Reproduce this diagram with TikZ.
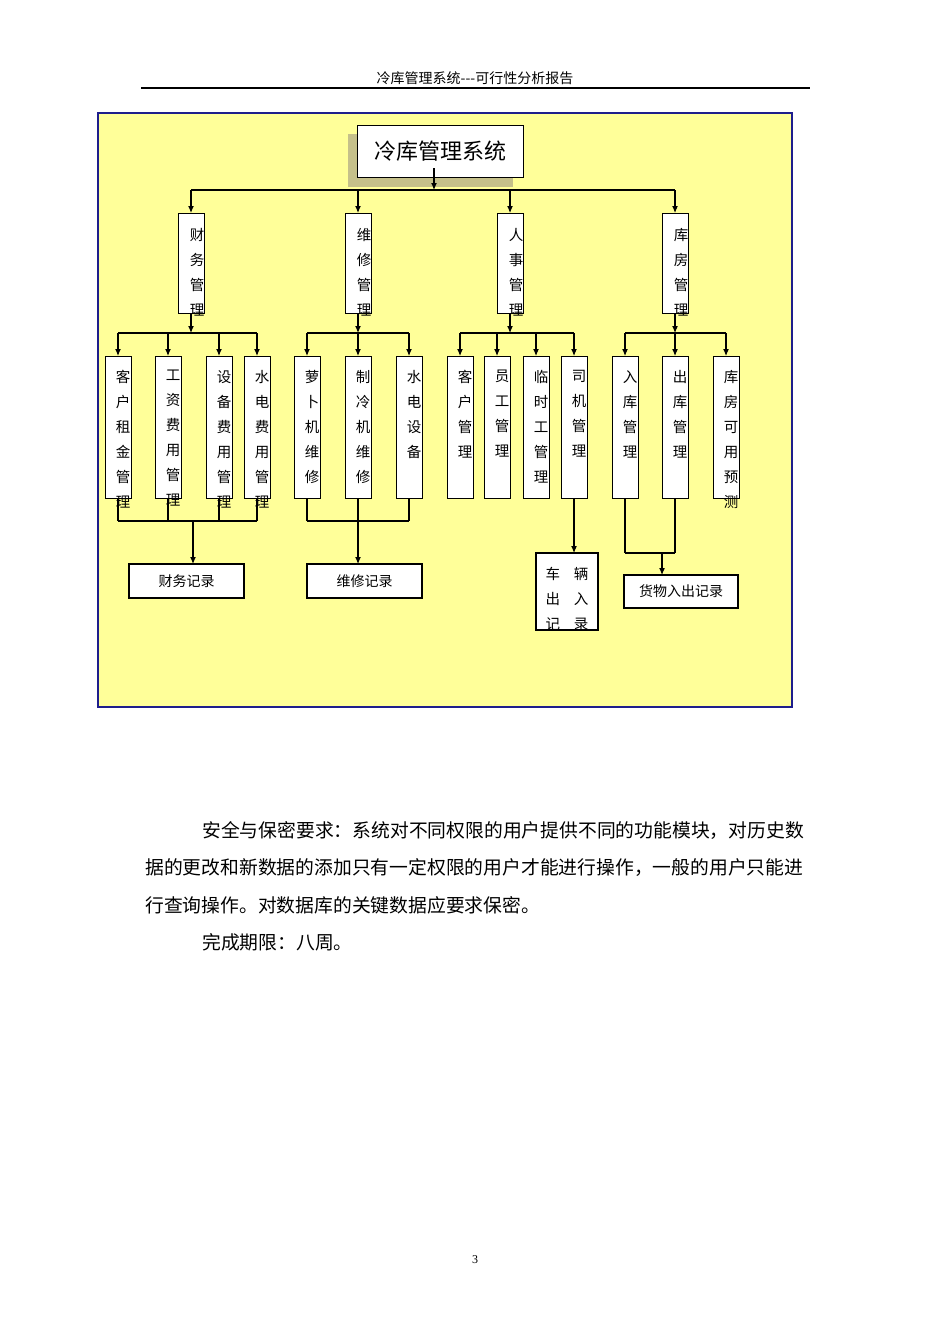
\documentclass[tikz,border=0pt]{standalone}
\usepackage{fontspec}
\setmainfont{Noto Sans CJK SC}
\newfontfamily\latserif{Liberation Serif}
\usetikzlibrary{arrows.meta}
\definecolor{pagey}{RGB}{255,255,153}
\definecolor{framec}{RGB}{30,30,140}
\definecolor{shadowc}{RGB}{197,192,138}
\begin{document}
\begin{tikzpicture}[x=1pt,y=-1pt,
  box/.style={draw=black, fill=white, line width=1pt, inner sep=0pt, outer sep=0pt},
  vbox/.style={box, minimum width=26pt, anchor=north west},
  vtxt/.style={anchor=north, inner sep=0pt, align=center, font=\fontsize{14.5}{25}\selectfont},
  ln/.style={line width=1.1pt, draw=black},
  arr/.style={ln, -{Latex[length=7pt,width=6pt]}},
  rec/.style={box, line width=1.2pt, anchor=north west, font=\fontsize{14}{17}\selectfont},
  para/.style={anchor=base west, inner sep=0pt, font=\fontsize{18.8}{22}\selectfont},
]
\fill[white] (0,0) rectangle (950,1344);
\useasboundingbox (0,0) rectangle (950,1344);

% header
\node[anchor=base, inner sep=0pt, font=\fontsize{14}{16}\selectfont] (hdr) at (475,83) {冷库管理系统-{}-{}-可行性分析报告};
\draw[line width=1.3pt] (141,88) -- (810,88);

% frame
\draw[fill=pagey, draw=framec, line width=1.3pt] (98,113) rectangle (792,707);

% root
\fill[shadowc] (348,134) rectangle (513,187);
\node[box, minimum width=166pt, minimum height=52pt, font=\fontsize{22}{26}\selectfont] (root) at (440,151) {冷库管理系统};

% level 2
\node[vbox, minimum height=100pt] (cwgl) at (178,213) {};
\node[vbox, minimum height=100pt] (wxgl) at (345,213) {};
\node[vbox, minimum height=100pt] (rsgl) at (497,213) {};
\node[vbox, minimum height=100pt] (kfgl) at (662,213) {};

% leaves
\foreach \n/\x in {kh/105, gz/155, sb/206, sd/244, lb/294, zl/345, sdsb/396,
                   khgl/447, yg/484, ls/523, sj/561, rk/612, ck/662, kf/713}{
  \node[vbox, minimum height=142pt] (\n) at (\x,356) {};
}

% records
\node[rec, minimum width=115pt, minimum height=34pt] (cwjl) at (129,564) {财务记录};
\node[rec, minimum width=115pt, minimum height=34pt] (wxjl) at (307,564) {维修记录};
\node[rec, minimum width=62pt, minimum height=77pt] (cljl) at (536,553) {};
\node[rec, minimum width=114pt, minimum height=33pt] (hwjl) at (624,575) {货物入出记录};

% connectors: root to level 2
\coordinate (rs) at (434,168);
\coordinate (b0) at (434,190);
\draw[arr] (rs) -- (b0);
\draw[ln] (cwgl.north |- b0) -- (kfgl.north |- b0);
\foreach \n in {cwgl,wxgl,rsgl,kfgl}{
  \draw[arr] (\n.north |- b0) -- (\n.north);
}

% level 2 to leaves
\coordinate (lev3) at (0,333);
\foreach \n in {cwgl,wxgl,rsgl,kfgl}{
  \draw[arr] (\n.south) -- (\n.south |- lev3);
}
\draw[ln] (kh.north |- lev3) -- (sd.north |- lev3);
\draw[ln] (lb.north |- lev3) -- (sdsb.north |- lev3);
\draw[ln] (khgl.north |- lev3) -- (sj.north |- lev3);
\draw[ln] (rk.north |- lev3) -- (kf.north |- lev3);
\foreach \n in {kh,gz,sb,sd,lb,zl,sdsb,khgl,yg,ls,sj,rk,ck,kf}{
  \draw[arr] (\n.north |- lev3) -- (\n.north);
}

% leaves to records
\coordinate (m1) at (0,521);
\coordinate (m2) at (0,553);
\foreach \n in {kh,gz,sb,sd,lb,zl,sdsb}{
  \draw[ln] (\n.south) -- (\n.south |- m1);
}
\draw[ln] (kh.south |- m1) -- (sd.south |- m1);
\draw[ln] (lb.south |- m1) -- (sdsb.south |- m1);
\coordinate (j1) at (193,521);
\draw[arr] (j1) -- (j1 |- cwjl.north);
\draw[arr] (zl.south |- m1) -- (zl.south |- wxjl.north);
\draw[arr] (sj.south) -- (sj.south |- cljl.north);
\foreach \n in {rk,ck}{
  \draw[ln] (\n.south) -- (\n.south |- m2);
}
\draw[ln] (rk.south |- m2) -- (ck.south |- m2);
\coordinate (j4) at (662,553);
\draw[arr] (j4) -- (j4 |- hwjl.north);

% texts of vertical boxes
\node[vtxt] (cwgl-t) at ([xshift=6pt,yshift=-15pt]cwgl.north) {财\\务\\管\\理};
\node[vtxt] (wxgl-t) at ([xshift=6pt,yshift=-15pt]wxgl.north) {维\\修\\管\\理};
\node[vtxt] (rsgl-t) at ([xshift=6pt,yshift=-15pt]rsgl.north) {人\\事\\管\\理};
\node[vtxt] (kfgl-t) at ([xshift=6pt,yshift=-15pt]kfgl.north) {库\\房\\管\\理};
\foreach \n/\t in {kh/{客\\户\\租\\金\\管\\理}, gz/{工\\资\\费\\用\\管\\理},
                   sb/{设\\备\\费\\用\\管\\理}, sd/{水\\电\\费\\用\\管\\理},
                   lb/{萝\\卜\\机\\维\\修}, zl/{制\\冷\\机\\维\\修},
                   sdsb/{水\\电\\设\\备}, khgl/{客\\户\\管\\理},
                   yg/{员\\工\\管\\理}, ls/{临\\时\\工\\管\\理},
                   sj/{司\\机\\管\\理}, rk/{入\\库\\管\\理},
                   ck/{出\\库\\管\\理}, kf/{库\\房\\可\\用\\预\\测}}{
  \node[vtxt] (\n-t) at ([xshift=5pt,yshift=-14pt]\n.north) {\t};
}
\node[vtxt] (cljl-t) at ([yshift=-14pt]cljl.north) {车\hspace{14pt}辆\\出\hspace{14pt}入\\记\hspace{14pt}录};

% paragraph
\node[para] (p1) at (202,837) {安全与保密要求：系统对不同权限的用户提供不同的功能模块，对历史数};
\node[para] (p2) at (145,874) {据的更改和新数据的添加只有一定权限的用户才能进行操作，一般的用户只能进};
\node[para] (p3) at (145,912) {行查询操作。对数据库的关键数据应要求保密。};
\node[para] (p4) at (202,949) {完成期限：八周。};

% page number
\node[anchor=base, inner sep=0pt, font=\latserif\fontsize{12}{14}\selectfont] (pg) at (475,1263) {3};
\end{tikzpicture}
\end{document}
